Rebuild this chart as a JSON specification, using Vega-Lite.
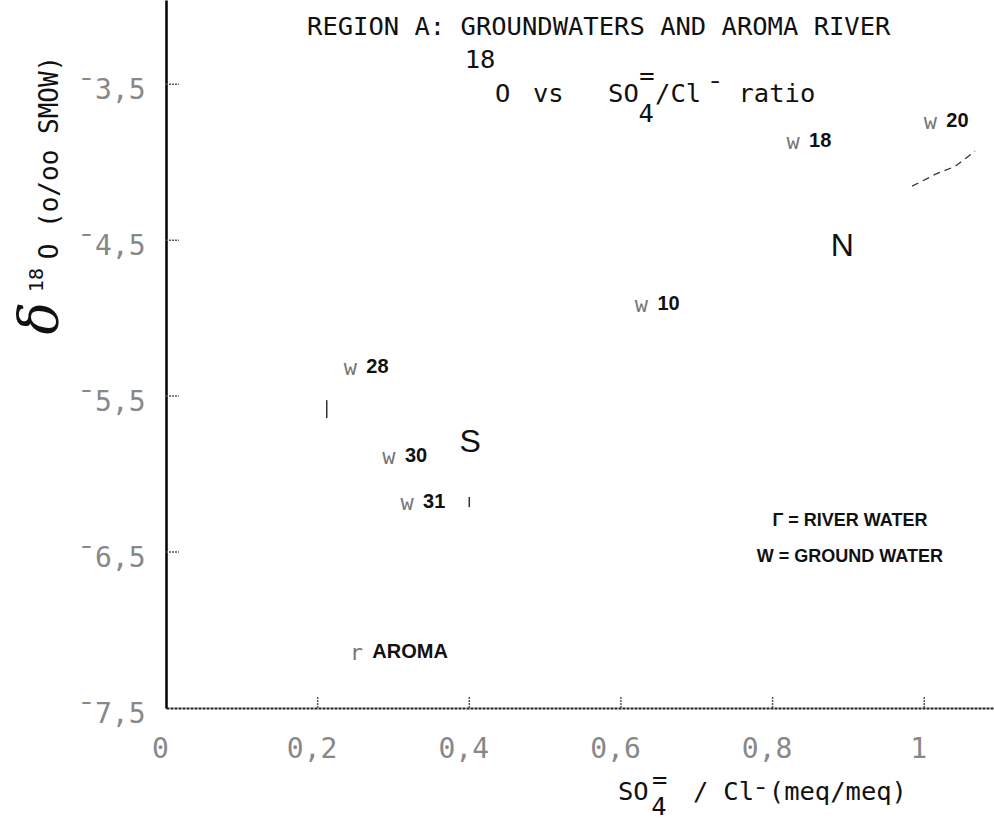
{
  "$schema": "https://vega.github.io/schema/vega-lite/v6.json",
  "width": 828,
  "height": 708,
  "autosize": {"type": "none"},
  "padding": {"left": 166, "top": 0, "right": 0, "bottom": 114},
  "background": "#ffffff",
  "config": {"view": {"stroke": null}},
  "datasets": {
    "samples": [
      {"id": "20", "type": "w", "x": 1.008, "y": -3.744},
      {"id": "18", "type": "w", "x": 0.827, "y": -3.872},
      {"id": "10", "type": "w", "x": 0.627, "y": -4.917},
      {"id": "28", "type": "w", "x": 0.243, "y": -5.321},
      {"id": "30", "type": "w", "x": 0.294, "y": -5.891},
      {"id": "31", "type": "w", "x": 0.318, "y": -6.186},
      {"id": "AROMA", "type": "r", "x": 0.251, "y": -7.15}
    ],
    "xticks": [
      {"x": 0.2, "y": -7.5, "y2": -7.423},
      {"x": 0.4, "y": -7.5, "y2": -7.423},
      {"x": 0.6, "y": -7.5, "y2": -7.423},
      {"x": 0.8, "y": -7.5, "y2": -7.423},
      {"x": 1.0, "y": -7.5, "y2": -7.423}
    ],
    "yticks": [
      {"x": 0, "x2": 0.017, "y": -3.5},
      {"x": 0, "x2": 0.017, "y": -4.5},
      {"x": 0, "x2": 0.017, "y": -5.5},
      {"x": 0, "x2": 0.017, "y": -6.5}
    ],
    "trend": [
      {"x": 0.984, "y": -4.154},
      {"x": 1.015, "y": -4.077},
      {"x": 1.041, "y": -4.026},
      {"x": 1.067, "y": -3.929}
    ],
    "fragments": [
      {"x": 0.212, "y": -5.526, "y2": -5.641},
      {"x": 0.4, "y": -6.147, "y2": -6.212}
    ],
    "typed": [
      {"text": "REGION A: GROUNDWATERS AND AROMA RIVER", "x": 0.186, "y": -3.186},
      {"text": "18", "x": 0.394, "y": -3.397},
      {"text": "O", "x": 0.434, "y": -3.615},
      {"text": "vs", "x": 0.484, "y": -3.615},
      {"text": "SO", "x": 0.583, "y": -3.615},
      {"text": "4", "x": 0.623, "y": -3.744},
      {"text": "=", "x": 0.624, "y": -3.5},
      {"text": "/Cl", "x": 0.645, "y": -3.615},
      {"text": "¯", "x": 0.714, "y": -3.6},
      {"text": "ratio", "x": 0.755, "y": -3.615},
      {"text": "SO", "x": 0.596, "y": -8.09},
      {"text": "4", "x": 0.64, "y": -8.186},
      {"text": "=", "x": 0.641, "y": -8.013},
      {"text": "/", "x": 0.695, "y": -8.09},
      {"text": "Cl", "x": 0.735, "y": -8.09},
      {"text": "¯", "x": 0.774, "y": -8.128},
      {"text": "(meq/meq)", "x": 0.795, "y": -8.09}
    ],
    "delta": [{"text": "δ", "x": -0.1438, "y": -5.0}],
    "isotope": [{"text": "18", "x": -0.1623, "y": -4.756}],
    "zones": [
      {"text": "N", "x": 0.892, "y": -4.538},
      {"text": "S", "x": 0.401, "y": -5.795}
    ],
    "key": [
      {"text": "Γ = RIVER WATER", "x": 0.902, "y": -6.301},
      {"text": "W = GROUND WATER", "x": 0.902, "y": -6.532}
    ]
  },
  "encoding": {
    "x": {
      "field": "x", "type": "quantitative",
      "scale": {"domain": [0, 1.092], "nice": false, "zero": false},
      "axis": {
        "values": [0, 0.2, 0.4, 0.6, 0.8, 1],
        "title": null, "grid": false, "ticks": false,
        "domainColor": "#222222", "domainWidth": 2, "domainDash": [3, 1],
        "labelFont": "DejaVu Sans Mono", "labelFontSize": 28, "labelColor": "#888888",
        "labelPadding": 27, "labelBaseline": "top", "labelOffset": -6,
        "labelFlush": false, "labelOverlap": false,
        "labelExpr": "replace(format(datum.value, '.1~f'), '.', ',')"
      }
    },
    "y": {
      "field": "y", "type": "quantitative",
      "scale": {"domain": [-7.5, -2.96], "nice": false, "zero": false},
      "axis": {
        "values": [-7.5, -6.5, -5.5, -4.5, -3.5],
        "grid": false, "ticks": false,
        "title": "O (o/oo SMOW)",
        "titleFont": "DejaVu Sans Mono", "titleFontSize": 26, "titleFontWeight": "normal", "titleColor": "#111111",
        "titleX": -109, "titleY": 157, "titleAngle": 270, "titleAlign": "center", "titleBaseline": "alphabetic",
        "domainColor": "#000000", "domainWidth": 2.5,
        "labelFont": "DejaVu Sans Mono", "labelFontSize": 28, "labelColor": "#888888",
        "labelPadding": 21, "labelOffset": 6, "labelAlign": "right", "labelBaseline": "middle",
        "labelFlush": false, "labelOverlap": false,
        "labelExpr": "'¯' + replace(format(-datum.value, '.1f'), '.', ',')"
      }
    }
  },
  "layer": [
    {
      "data": {"name": "samples"},
      "mark": {"type": "text", "font": "DejaVu Sans Mono", "fontSize": 22, "color": "#777777", "align": "center", "baseline": "middle"},
      "encoding": {"text": {"field": "type"}}
    },
    {
      "data": {"name": "samples"},
      "mark": {"type": "text", "font": "Liberation Sans", "fontWeight": "bold", "fontSize": 20, "color": "#111111", "align": "left", "baseline": "middle", "dx": 16, "dy": -1},
      "encoding": {"text": {"field": "id"}}
    },
    {
      "data": {"name": "xticks"},
      "mark": {"type": "rule", "color": "#555555", "strokeWidth": 1.5, "strokeDash": [2, 1]},
      "encoding": {"y2": {"field": "y2"}}
    },
    {
      "data": {"name": "yticks"},
      "mark": {"type": "rule", "color": "#555555", "strokeWidth": 1.5, "strokeDash": [2, 1]},
      "encoding": {"x2": {"field": "x2"}}
    },
    {
      "data": {"name": "trend"},
      "mark": {"type": "line", "color": "#333333", "strokeWidth": 1.3, "strokeDash": [7, 5]},
      "encoding": {"order": {"field": "x"}}
    },
    {
      "data": {"name": "fragments"},
      "mark": {"type": "rule", "color": "#333333", "strokeWidth": 1.5},
      "encoding": {"y2": {"field": "y2"}}
    },
    {
      "data": {"name": "typed"},
      "mark": {"type": "text", "font": "DejaVu Sans Mono", "fontSize": 25.5, "color": "#111111", "align": "left", "baseline": "alphabetic"},
      "encoding": {"text": {"field": "text"}}
    },
    {
      "data": {"name": "delta"},
      "mark": {"type": "text", "font": "DejaVu Serif", "fontStyle": "italic", "fontSize": 54, "color": "#111111", "align": "center", "baseline": "alphabetic", "angle": 270},
      "encoding": {"text": {"field": "text"}}
    },
    {
      "data": {"name": "isotope"},
      "mark": {"type": "text", "font": "DejaVu Sans Mono", "fontSize": 20, "color": "#111111", "align": "center", "baseline": "alphabetic", "angle": 270},
      "encoding": {"text": {"field": "text"}}
    },
    {
      "data": {"name": "zones"},
      "mark": {"type": "text", "font": "Liberation Sans", "fontSize": 32, "color": "#111111", "align": "center", "baseline": "middle"},
      "encoding": {"text": {"field": "text"}}
    },
    {
      "data": {"name": "key"},
      "mark": {"type": "text", "font": "Liberation Sans", "fontWeight": "bold", "fontSize": 18, "color": "#111111", "align": "center", "baseline": "middle"},
      "encoding": {"text": {"field": "text"}}
    }
  ]
}
